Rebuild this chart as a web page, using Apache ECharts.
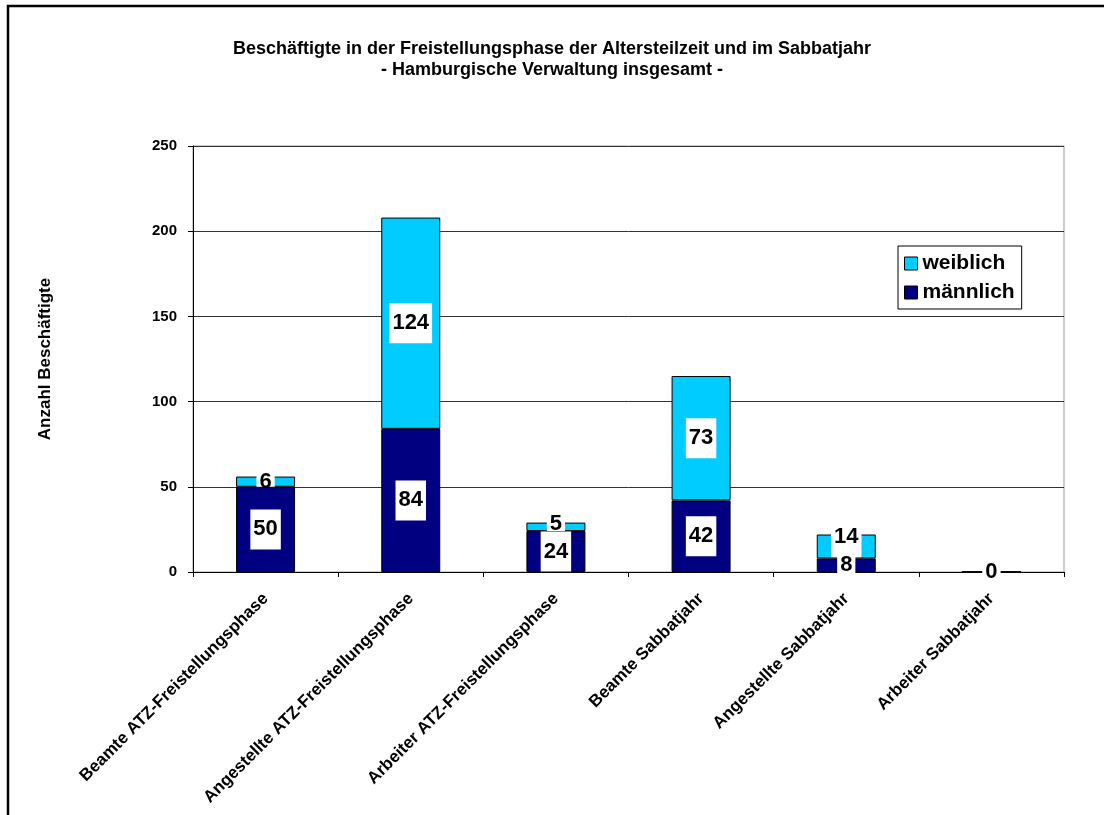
<!DOCTYPE html>
<html>
<head>
<meta charset="utf-8">
<script src="https://cdn.jsdelivr.net/npm/echarts@6/dist/echarts.min.js"></script>
<style>
  html, body { margin: 0; padding: 0; background: #fff; }
  #chart { width: 1104px; height: 815px; }
</style>
</head>
<body>
<div id="chart"></div>
<script>
// Beschäftigte in der Freistellungsphase (ATZ) und im Sabbatjahr
const categories = [
  'Beamte ATZ-Freistellungsphase',
  'Angestellte ATZ-Freistellungsphase',
  'Arbeiter ATZ-Freistellungsphase',
  'Beamte Sabbatjahr',
  'Angestellte Sabbatjahr',
  'Arbeiter Sabbatjahr'
];
const maennlich = [50, 84, 24, 42, 8, 0];
const weiblich = [6, 124, 5, 73, 14, 0];
const titleLines = [
  'Beschäftigte in der Freistellungsphase der Altersteilzeit und im Sabbatjahr',
  '- Hamburgische Verwaltung insgesamt -'
];
const yAxisTitle = 'Anzahl Beschäftigte';

const FONT = '"Liberation Sans", Arial, sans-serif';

function valueLabel() {
  return {
    show: true,
    position: 'inside',
    formatter: '{c}',
    color: '#000',
    fontFamily: FONT,
    fontWeight: 'bold',
    fontSize: 22,
    backgroundColor: '#fff',
    padding: [10, 3, 8, 3]
  };
}

// Upper-segment labels of thin segments are lifted just enough so the
// digits of the lower segment's label below stay readable.
function liftUpperLabel(params) {
  const i = params.dataIndex;
  const w = weiblich[i];
  if (!w) return {};
  const r = params.rect;
  const pxPerUnit = r.height / w;
  const lowerCenter = r.y + r.height + maennlich[i] * pxPerUnit / 2;
  const lowerDigitsTop = lowerCenter - 8;
  const lb = params.labelRect;
  const overlap = lb.y + lb.height - lowerDigitsTop;
  return overlap > 0 ? { dy: -overlap } : {};
}

const chart = echarts.init(document.getElementById('chart'), null, { renderer: 'canvas' });
chart.setOption({
  animation: false,
  backgroundColor: '#fff',
  title: {
    text: titleLines.join('\n'),
    left: 'center',
    top: 34,
    textStyle: {
      fontFamily: FONT,
      fontWeight: 'bold',
      fontSize: 18,
      lineHeight: 21,
      color: '#000'
    }
  },
  graphic: [{
    type: 'rect',
    shape: { x: 8, y: 6, width: 1110, height: 830 },
    style: { fill: 'none', stroke: '#000', lineWidth: 2.5 },
    silent: true
  }],
  legend: {
    data: ['weiblich', 'männlich'],
    orient: 'vertical',
    left: 898,
    top: 246,
    backgroundColor: '#fff',
    borderColor: '#000',
    borderWidth: 1,
    padding: [7, 7, 6, 6],
    itemGap: 8,
    itemWidth: 13,
    itemHeight: 13,
    icon: 'rect',
    itemStyle: { borderColor: '#000', borderWidth: 1 },
    textStyle: {
      fontFamily: FONT,
      fontWeight: 'bold',
      fontSize: 21,
      color: '#000'
    }
  },
  grid: {
    left: 193,
    right: 40,
    top: 146,
    bottom: 243,
    show: true,
    borderColor: '#999',
    borderWidth: 1,
    containLabel: false
  },
  xAxis: {
    type: 'category',
    data: categories,
    axisLine: { show: true, lineStyle: { color: '#000', width: 1 } },
    axisTick: { show: true, length: 5, alignWithLabel: false, lineStyle: { color: '#000' } },
    axisLabel: {
      rotate: 45,
      margin: 24,
      interval: 0,
      color: '#000',
      fontFamily: FONT,
      fontWeight: 'bold',
      fontSize: 17
    }
  },
  yAxis: {
    type: 'value',
    min: 0,
    max: 250,
    interval: 50,
    name: yAxisTitle,
    nameLocation: 'middle',
    nameRotate: 90,
    nameGap: 139,
    nameTextStyle: {
      fontFamily: FONT,
      fontWeight: 'bold',
      fontSize: 17,
      color: '#000'
    },
    axisLine: { show: true, lineStyle: { color: '#000', width: 1 } },
    axisTick: { show: true, length: 5, lineStyle: { color: '#000' } },
    axisLabel: {
      margin: 16,
      color: '#000',
      fontFamily: FONT,
      fontWeight: 'bold',
      fontSize: 15
    },
    splitLine: { show: true, lineStyle: { color: '#333', width: 1 } }
  },
  series: [
    {
      name: 'männlich',
      type: 'bar',
      stack: 'gesamt',
      z: 4,
      data: maennlich,
      barWidth: 59,
      itemStyle: { color: '#000080', borderColor: '#000', borderWidth: 1 },
      label: valueLabel()
    },
    {
      name: 'weiblich',
      type: 'bar',
      stack: 'gesamt',
      z: 3,
      data: weiblich,
      barWidth: 59,
      itemStyle: { color: '#00CCFF', borderColor: '#000', borderWidth: 1 },
      label: valueLabel(),
      labelLayout: liftUpperLabel
    }
  ]
});
</script>
</body>
</html>
